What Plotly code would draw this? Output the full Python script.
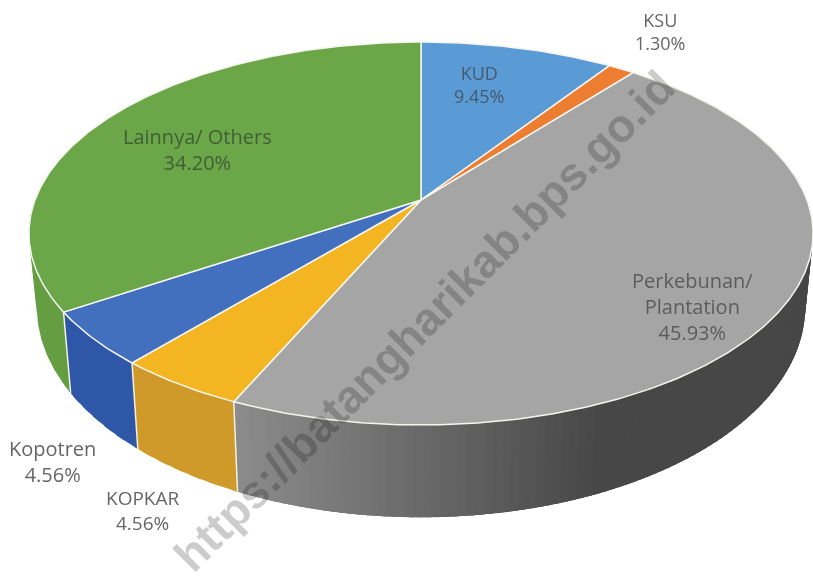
import math
import plotly.graph_objects as go

categories = ["KUD", "KSU", "Perkebunan/<br>Plantation", "KOPKAR", "Kopotren", "Lainnya/ Others"]
shares = [9.45, 1.30, 45.93, 4.56, 4.56, 34.20]
value_labels = ["9.45%", "1.30%", "45.93%", "4.56%", "4.56%", "34.20%"]
top_colors = ["#5B9BD5", "#ED7D31", "#A5A5A5", "#F4B523", "#4270BE", "#6BA648"]
wall_light = ["#3F78AE", "#C0641F", "#8C8C8C", "#CF9A2A", "#2F57A8", "#659E42"]
wall_dark = ["#3F78AE", "#C0641F", "#474747", "#C9962F", "#2F57A8", "#659E42"]
label_x = [479, 660, 692, 142, 52, 197]
label_y = [84, 31, 306, 510, 461, 149]
label_colors = ["#465a6e", "#666666", "#5c5c5c", "#666666", "#666666", "#3f5f36"]
label_sizes = [18, 18, 20, 19, 20, 20]

CX, CY, BX, AY, P = 421.0, 200.0, 386.0, 185.6, 0.175
FLOOR_CY, FLOOR_AY, FLOOR_X = 270.0, 204.0, 0.98


def project(theta, floor=False):
    u, v = math.sin(theta), math.cos(theta)
    w = 1 + P * v
    if floor:
        return CX + FLOOR_X * BX * u / w, FLOOR_CY - FLOOR_AY * v / w
    return CX + BX * u / w, CY - AY * v / w


def arc(a0, a1, floor=False):
    n = max(2, int((a1 - a0) / 0.01))
    return [project(a0 + (a1 - a0) * i / n, floor) for i in range(n + 1)]


def mix(c0, c1, t):
    a = [int(c0[i:i + 2], 16) for i in (1, 3, 5)]
    b = [int(c1[i:i + 2], 16) for i in (1, 3, 5)]
    return "#%02x%02x%02x" % tuple(round(p + (q - p) * t) for p, q in zip(a, b))


fig = go.Figure()


def poly(points, fill, line="rgba(0,0,0,0)", width=0):
    fig.add_trace(go.Scatter(
        x=[p[0] for p in points], y=[p[1] for p in points],
        mode="lines", fill="toself", fillcolor=fill,
        line=dict(color=line, width=width), hoverinfo="skip", showlegend=False))


bounds = [0.0]
for s in shares:
    bounds.append(bounds[-1] + s / sum(shares) * 2 * math.pi)

# walls; each strip overlaps the next so no seams show through
for i in range(len(shares)):
    a0, a1 = bounds[i], bounds[i + 1]
    strips = 150 if i == 2 else 6
    for k in range(strips):
        s0 = a0 + (a1 - a0) * k / strips
        s1 = min(a1 + 0.01, a0 + (a1 - a0) * (k + 1) / strips + 0.03)
        # shading darkens from left to right across the front of the wall
        xm = project(a0 + (a1 - a0) * (k + 0.5) / strips)[0]
        t = min(1.0, max(0.0, (xm - 235) / 365))
        poly(arc(s0, s1) + arc(s0, s1, True)[::-1], mix(wall_light[i], wall_dark[i], t))

# wall seams on the visible front side
for i in (3, 4, 5):
    top, bottom = project(bounds[i]), project(bounds[i], True)
    fig.add_trace(go.Scatter(x=[top[0], bottom[0]], y=[top[1], bottom[1]], mode="lines",
                             line=dict(color="#f4f1e2", width=1.5), hoverinfo="skip", showlegend=False))

# top face
for i in range(len(shares)):
    pts = [(CX, CY)] + arc(bounds[i], bounds[i + 1]) + [(CX, CY)]
    poly(pts, top_colors[i], "#f6f6f0", 1.5)

ann = []
for name, val, x, y, c, sz in zip(categories, value_labels, label_x, label_y, label_colors, label_sizes):
    ann.append(dict(x=x, y=y, text=f"{name}<br>{val}", showarrow=False, xref="x", yref="y",
                    font=dict(family="Open Sans", size=sz, color=c), align="center"))
ann.append(dict(x=424, y=321, text="<b>https://batangharikab.bps.go.id</b>", showarrow=False, xref="x", yref="y",
                textangle=-45, font=dict(family="Liberation Sans", size=46, color="rgba(0,0,0,0.2)")))

fig.update_layout(
    width=813, height=587, margin=dict(l=0, r=0, t=0, b=0),
    paper_bgcolor="white", plot_bgcolor="white", annotations=ann, showlegend=False,
    xaxis=dict(range=[0, 813], visible=False, fixedrange=True),
    yaxis=dict(range=[587, 0], visible=False, fixedrange=True),
)
fig.write_html(
    "out.html", config=dict(displayModeBar=False),
    post_script="document.body.style.margin='0';document.body.style.overflow='hidden';"
                "document.querySelector('.svg-container').style.filter='blur(0.6px)';",
)
